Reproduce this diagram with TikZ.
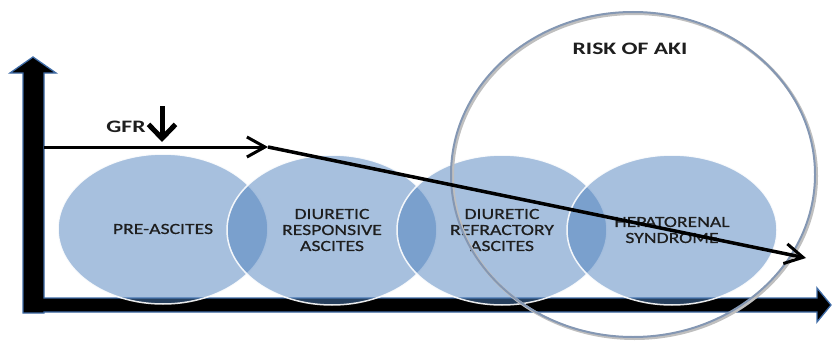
\documentclass[tikz,border=0pt]{standalone}
\usepackage{fontspec}
\setmainfont{Carlito}
\newfontfamily\calw[FakeStretch=1.27,FakeBold=0.6]{Carlito}
\newfontfamily\calwb[FakeStretch=1.35]{Carlito Bold}
\usetikzlibrary{arrows.meta,shapes.geometric}
\definecolor{eblue}{HTML}{4F81BD}
\definecolor{aoutline}{HTML}{3E6BA6}
\definecolor{ringc}{HTML}{8497B3}
\definecolor{txt}{HTML}{1E1E1E}
\tikzset{
  stage/.style={ellipse, minimum width=210pt, minimum height=150pt, inner sep=0pt,
    fill=eblue, fill opacity=0.5, text opacity=1, draw=white, draw opacity=0.9, line width=1.5pt,
    text=txt, align=center, font=\calw\fontsize{15.5}{16}\selectfont},
  axisarrow/.style={fill=black, draw=aoutline, line width=1.3pt, line join=miter},
  flowline/.style={line width=3pt, -{Straight Barb[length=18pt,width=20pt,line width=3pt]}},
  lbl/.style={font=\calwb\fontsize{17.5}{18}\selectfont, text=txt, inner sep=0pt}
}
\begin{document}
\begin{tikzpicture}[x=1pt,y=-1pt]
\useasboundingbox (0,0) rectangle (832,345);
% axes
\draw[axisarrow] (23,313) -- (23,73) -- (10,73) -- (33,57) -- (56,73) -- (44,73) -- (44,298)
  -- (817,298) -- (817,288) -- (831,305) -- (817,322) -- (817,312) -- (44,312) -- (44,313) -- cycle;
% stages
\node[stage] (e1) at (163,229) {PRE-ASCITES};
\node[stage] (e2) at (332,230) {DIURETIC\\RESPONSIVE\\ASCITES};
\node[stage] (e3) at (502,230) {DIURETIC\\REFRACTORY\\ASCITES};
\node[stage] (e4) at (672,230) {HEPATORENAL\\SYNDROME};
% risk ring
\draw[black!25, line width=3pt] (634.5,176) ellipse [x radius=182, y radius=162.5];
\node[draw=ringc, line width=2pt, ellipse, minimum width=364pt, minimum height=325pt, inner sep=0pt] (ring) at (633,174.5) {};
\node[lbl] (risk) at (630,49) {RISK OF AKI};
% GFR
\node[lbl] (gfr) at (126,127) {GFR};
\coordinate (dtop) at (162,106);
\coordinate (dbot) at (162,142);
\draw[line width=5pt, -{Straight Barb[length=14pt,width=27pt,line width=5pt]}] (dtop) -- (dbot);
\coordinate (g0) at (44,147);
\coordinate (g1) at (268,147);
\coordinate (g2) at (806,258);
\draw[flowline] (g0) -- (g1);
\draw[flowline, line width=3.5pt] (g1) -- (g2);
\end{tikzpicture}
\end{document}
